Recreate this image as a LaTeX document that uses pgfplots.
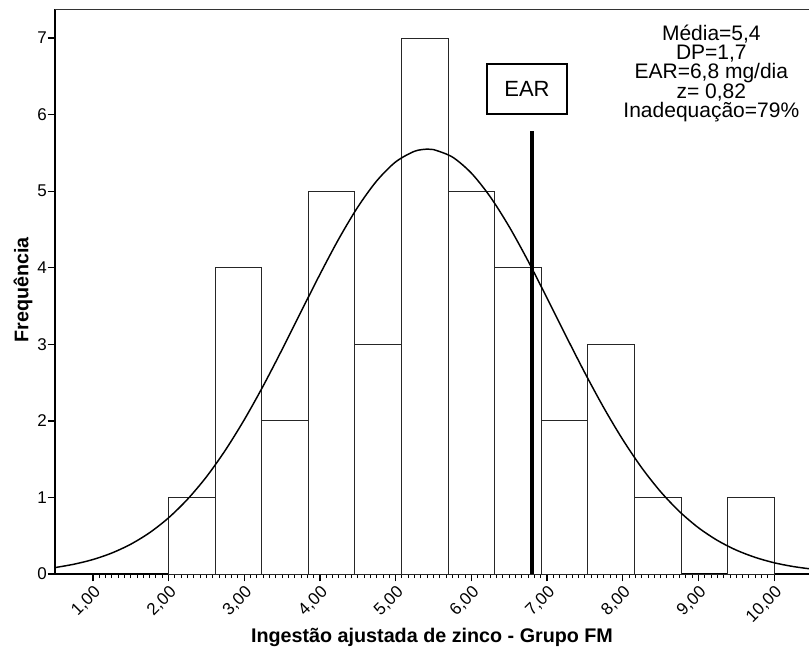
\documentclass[border=0pt]{standalone}
\usepackage{fontspec}
\setmainfont{Liberation Sans}
\usepackage{pgfplots}
\pgfplotsset{compat=1.18}
\usetikzlibrary{calc}
\begin{document}
\begin{tikzpicture}
\begin{axis}[
  scale only axis,
  width=565.5pt, height=423.75pt,
  xmin=0.5, xmax=10.46, ymin=0, ymax=7.38,
  axis x line*=bottom, axis y line*=left,
  axis line style={line width=1.5pt, black},
  xtick={1,2,3,4,5,6,7,8,9,10},
  xticklabels={{1,00},{2,00},{3,00},{4,00},{5,00},{6,00},{7,00},{8,00},{9,00},{10,00}},
  ytick={0,1,2,3,4,5,6,7},
  minor x tick num=11,
  tick align=outside,
  major tick length=5.5pt, minor tick length=3pt,
  every tick/.style={black, line width=1pt},
  minor tick style={line width=0.75pt},
  /pgf/number format/assume math mode=true,
  xticklabel style={font=\fontsize{12.75}{15}\selectfont, rotate=45, anchor=north east, inner sep=1.5pt},
  yticklabel style={font=\fontsize{12.75}{15}\selectfont, inner sep=0.5pt},
  xlabel={Ingestão ajustada de zinco - Grupo FM},
  ylabel={Frequência},
  every axis x label/.style={at={(axis description cs:0.5,-0.1115)}, anchor=center, font=\fontsize{14.8}{17}\selectfont\bfseries},
  every axis y label/.style={at={(axis description cs:-0.0424,0.503)}, rotate=90, anchor=center, font=\fontsize{14.8}{17}\selectfont\bfseries},
]
\coordinate (bl) at (rel axis cs:0,0);
\coordinate (tr) at (rel axis cs:1,1);
\addplot[ybar interval, draw=black!85, fill=white, line width=0.75pt] coordinates {
 (2.0000,1) (2.6154,4) (3.2308,2) (3.8462,5) (4.4615,3) (5.0769,7) (5.6923,5)
 (6.3077,4) (6.9231,2) (7.5385,3) (8.1538,1) (8.7692,0) (9.3846,1) (10.0000,1)
};
\addplot[smooth, line width=1.1pt, black] coordinates {
 (0.5,0.084) (0.75,0.128) (1.0,0.189) (1.25,0.274) (1.5,0.389) (1.75,0.540)
 (2.0,0.734) (2.25,0.976) (2.5,1.269) (2.75,1.617) (3.0,2.015) (3.25,2.457)
 (3.5,2.933) (3.75,3.426) (4.0,3.915) (4.25,4.380) (4.5,4.794) (4.75,5.135)
 (5.0,5.383) (5.25,5.522) (5.42,5.550) (5.5,5.544) (5.75,5.446) (6.0,5.236)
 (6.25,4.926) (6.5,4.536) (6.75,4.087) (7.0,3.603) (7.25,3.109) (7.5,2.626)
 (7.75,2.170) (8.0,1.755) (8.25,1.388) (8.5,1.075) (8.75,0.815) (9.0,0.604)
 (9.25,0.439) (9.5,0.312) (9.75,0.217) (10.0,0.147) (10.25,0.098) (10.5,0.064)
};
\addplot[line width=3pt, black] coordinates {(6.8,0) (6.8,5.78)};
\draw[line width=0.75pt, black!80] (rel axis cs:0,1) -- (rel axis cs:1,1);
\node[draw, line width=1.5pt, minimum width=60pt, minimum height=37.5pt, font=\fontsize{16.5}{18}\selectfont] at (axis cs:6.735,6.334) {EAR};
\node[align=center, font=\fontsize{15.75}{14.5}\selectfont, inner sep=0pt] at (axis cs:9.17,6.54) {Média=5,4\\DP=1,7\\EAR=6,8 mg/dia\\z= 0,82\\Inadequação=79\%};
\end{axis}
\pgfresetboundingbox
\path[use as bounding box] ($(bl)+(-41.25pt,-55.5pt)$) rectangle ($(tr)+(0pt,6.75pt)$);
\end{tikzpicture}
\end{document}
